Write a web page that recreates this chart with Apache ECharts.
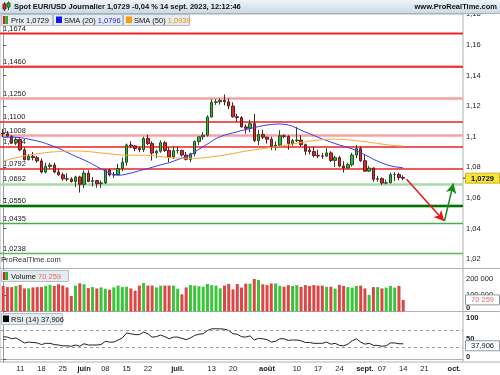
<!DOCTYPE html>
<html><head><meta charset="utf-8">
<script src="https://cdn.jsdelivr.net/npm/echarts@6/dist/echarts.min.js"></script>
<style>html,body{margin:0;padding:0;background:#fff}#c{width:500px;height:375px}</style>
</head><body><div id="c"></div>
<script>
// ---- DATA ----
const dates = [
'2023-05-05','2023-05-08','2023-05-09','2023-05-10','2023-05-11','2023-05-12','2023-05-15','2023-05-16','2023-05-17','2023-05-18','2023-05-19','2023-05-22','2023-05-23','2023-05-24','2023-05-25','2023-05-26','2023-05-29','2023-05-30','2023-05-31',
'2023-06-01','2023-06-02','2023-06-05','2023-06-06','2023-06-07','2023-06-08','2023-06-09','2023-06-12','2023-06-13','2023-06-14','2023-06-15','2023-06-16','2023-06-19','2023-06-20','2023-06-21','2023-06-22','2023-06-23','2023-06-26','2023-06-27','2023-06-28','2023-06-29','2023-06-30',
'2023-07-03','2023-07-04','2023-07-05','2023-07-06','2023-07-07','2023-07-10','2023-07-11','2023-07-12','2023-07-13','2023-07-14','2023-07-17','2023-07-18','2023-07-19','2023-07-20','2023-07-21','2023-07-24','2023-07-25','2023-07-26','2023-07-27','2023-07-28','2023-07-31',
'2023-08-01','2023-08-02','2023-08-03','2023-08-04','2023-08-07','2023-08-08','2023-08-09','2023-08-10','2023-08-11','2023-08-14','2023-08-15','2023-08-16','2023-08-17','2023-08-18','2023-08-21','2023-08-22','2023-08-23','2023-08-24','2023-08-25','2023-08-28','2023-08-29','2023-08-30','2023-08-31',
'2023-09-01','2023-09-04','2023-09-05','2023-09-06','2023-09-07','2023-09-08','2023-09-11','2023-09-12','2023-09-13','2023-09-14',
'2023-09-15','2023-09-18','2023-09-19','2023-09-20','2023-09-21','2023-09-22','2023-09-25','2023-09-26','2023-09-27','2023-09-28','2023-09-29','2023-10-02','2023-10-03','2023-10-04'
];
// [open, close, low, high]
const candles = [
[1.1022,1.1018,1.0998,1.1050],[1.1018,1.1004,1.0995,1.1037],[1.1004,1.0961,1.0955,1.1010],[1.0961,1.0982,1.0945,1.0998],[1.0982,1.0914,1.0905,1.0990],
[1.0914,1.0850,1.0845,1.0930],[1.0850,1.0872,1.0845,1.0887],[1.0872,1.0863,1.0845,1.0900],[1.0863,1.0842,1.0830,1.0875],[1.0842,1.0769,1.0760,1.0858],
[1.0769,1.0806,1.0760,1.0830],[1.0806,1.0815,1.0790,1.0830],[1.0815,1.0769,1.0760,1.0830],[1.0769,1.0751,1.0745,1.0790],[1.0751,1.0725,1.0713,1.0765],
[1.0725,1.0723,1.0710,1.0760],[1.0723,1.0707,1.0700,1.0735],[1.0707,1.0737,1.0672,1.0745],[1.0737,1.0689,1.0635,1.0745],[1.0689,1.0762,1.0665,1.0780],
[1.0762,1.0708,1.0705,1.0780],[1.0708,1.0713,1.0675,1.0737],[1.0713,1.0693,1.0667,1.0718],[1.0693,1.0698,1.0665,1.0715],[1.0698,1.0783,1.0690,1.0787],
[1.0783,1.0750,1.0740,1.0790],[1.0750,1.0752,1.0730,1.0770],[1.0752,1.0792,1.0750,1.0823],[1.0792,1.0833,1.0775,1.0865],[1.0833,1.0946,1.0810,1.0955],
[1.0946,1.0940,1.0925,1.0970],[1.0940,1.0923,1.0905,1.0945],[1.0923,1.0915,1.0898,1.0935],[1.0915,1.0988,1.0900,1.1000],[1.0988,1.0955,1.0945,1.1012],
[1.0955,1.0893,1.0844,1.0970],[1.0893,1.0905,1.0860,1.0915],[1.0905,1.0961,1.0895,1.0976],[1.0961,1.0910,1.0900,1.0973],[1.0910,1.0867,1.0835,1.0930],
[1.0867,1.0909,1.0855,1.0935],[1.0909,1.0910,1.0890,1.0935],[1.0910,1.0880,1.0870,1.0915],[1.0880,1.0852,1.0845,1.0900],[1.0852,1.0888,1.0833,1.0895],
[1.0888,1.0968,1.0870,1.0975],[1.0968,1.0999,1.0945,1.1000],[1.0999,1.1010,1.0980,1.1030],[1.1010,1.1129,1.1000,1.1140],[1.1129,1.1225,1.1125,1.1245],
[1.1225,1.1228,1.1208,1.1245],[1.1228,1.1237,1.1210,1.1250],[1.1237,1.1228,1.1205,1.1276],[1.1228,1.1200,1.1180,1.1250],[1.1200,1.1130,1.1125,1.1225],
[1.1130,1.1125,1.1100,1.1150],[1.1125,1.1064,1.1060,1.1135],[1.1064,1.1055,1.1020,1.1080],[1.1055,1.1085,1.1030,1.1110],[1.1085,1.0975,1.0965,1.1149],
[1.0975,1.1015,1.0945,1.1045],[1.1015,1.0997,1.0985,1.1045],[1.0997,1.0983,1.0955,1.1000],[1.0983,1.0937,1.0912,1.1000],[1.0937,1.0945,1.0910,1.0970],
[1.0945,1.1006,1.0935,1.1042],[1.1006,1.1002,1.0990,1.1015],[1.1002,1.0955,1.0915,1.1010],[1.0955,1.0974,1.0940,1.0985],[1.0974,1.0978,1.0965,1.1064],
[1.0978,1.0948,1.0935,1.1010],[1.0948,1.0905,1.0880,1.0955],[1.0912,1.0903,1.0885,1.0930],[1.0903,1.0877,1.0865,1.0935],[1.0877,1.0874,1.0860,1.0915],
[1.0874,1.0873,1.0855,1.0895],[1.0873,1.0894,1.0870,1.0925],[1.0894,1.0845,1.0835,1.0905],[1.0845,1.0863,1.0802,1.0875],[1.0863,1.0809,1.0800,1.0875],
[1.0809,1.0796,1.0766,1.0840],[1.0796,1.0817,1.0790,1.0830],[1.0817,1.0880,1.0805,1.0895],[1.0880,1.0922,1.0860,1.0945],[1.0922,1.0843,1.0835,1.0935],
[1.0843,1.0775,1.0770,1.0880],[1.0775,1.0795,1.0770,1.0808],[1.0795,1.0722,1.0705,1.0800],[1.0722,1.0726,1.0705,1.0745],[1.0726,1.0697,1.0685,1.0735],
[1.0697,1.0699,1.0688,1.0720],[1.0699,1.0752,1.0695,1.0765],[1.0752,1.0753,1.0710,1.0768],[1.0753,1.0733,1.0715,1.0765],[1.0733,1.0729,1.0715,1.0748]
];
const sma20 = [
1.0995,1.0997,1.0997,1.0996,1.0994,1.0990,1.0984,1.0978,1.0972,1.0965,
1.0956,1.0946,1.0935,1.0925,1.0912,1.0898,1.0885,1.0872,1.0860,1.0848,
1.0835,1.0820,1.0805,1.0790,1.0775,1.0762,1.0752,1.0748,1.0750,1.0756,
1.0762,1.0770,1.0778,1.0785,1.0792,1.0800,1.0808,1.0816,1.0823,1.0830,
1.0840,1.0850,1.0860,1.0868,1.0880,1.0900,1.0918,1.0935,1.0952,1.0970,
1.0988,1.1000,1.1010,1.1018,1.1025,1.1032,1.1040,1.1046,1.1053,1.1060,
1.1066,1.1072,1.1077,1.1080,1.1082,1.1083,1.1081,1.1077,1.1068,1.1055,
1.1042,1.1030,1.1020,1.1008,1.0996,1.0985,1.0975,1.0965,1.0955,1.0946,
1.0938,1.0930,1.0920,1.0908,1.0895,1.0882,1.0868,1.0852,1.0840,1.0828,
1.0818,1.0810,1.0804,1.0800,1.0796];
const sma50 = [
1.0840,1.0848,1.0856,1.0862,1.0868,1.0874,1.0880,1.0884,1.0888,1.0892,
1.0896,1.0899,1.0901,1.0903,1.0905,1.0906,1.0907,1.0907,1.0906,1.0905,
1.0903,1.0900,1.0897,1.0894,1.0891,1.0888,1.0885,1.0882,1.0880,1.0879,
1.0879,1.0879,1.0879,1.0879,1.0878,1.0876,1.0873,1.0870,1.0867,1.0864,
1.0862,1.0861,1.0860,1.0859,1.0859,1.0859,1.0860,1.0862,1.0865,1.0868,
1.0872,1.0876,1.0880,1.0885,1.0890,1.0896,1.0901,1.0906,1.0910,1.0914,
1.0918,1.0922,1.0926,1.0930,1.0934,1.0938,1.0942,1.0947,1.0952,1.0957,
1.0962,1.0967,1.0971,1.0975,1.0978,1.0981,1.0983,1.0984,1.0984,1.0983,
1.0982,1.0980,1.0977,1.0974,1.0971,1.0968,1.0964,1.0960,1.0956,1.0952,
1.0948,1.0945,1.0942,1.0940,1.0939];
const volumes = [
155000,148000,148000,155000,161000,140000,140000,146000,148000,148000,
155000,161000,155000,165000,157000,146000,94000,157000,171000,165000,
142000,148000,140000,146000,138000,132000,146000,157000,148000,150000,
140000,126000,157000,173000,157000,157000,146000,157000,157000,157000,
157000,138000,104000,146000,160000,157000,153000,150000,167000,160000,
157000,140000,157000,167000,134000,167000,145000,169000,169000,197000,
191000,165000,160000,170000,170000,155000,150000,160000,155000,160000,
150000,160000,155000,160000,157000,157000,150000,150000,139000,162000,
155000,148000,145000,155000,157000,140000,101000,148000,148000,140000,
145000,155000,145000,155000,70259];
const rsi = [
55,54,50,52,46,40,42,41,40,36,
39,39,36,35,33,33,32,35,32,38,
35,35,35,36,44,42,42,47,52,64,
62,60,60,66,62,54,55,59,55,50,
54,54,51,48,52,58,61,62,70,74,
74,74,73,70,62,61,55,54,57,47,
51,50,48,42,44,50,50,46,47,47,
45,41,41,39,39,39,42,37,39,34,
33,37,45,50,42,37,39,34,34,32,
33,40,40,38,37.906];
const priceTicks = [1.02,1.04,1.06,1.08,1.10,1.12,1.14,1.16,1.18];
const volumeTicks = [0,100000,200000];
const rsiTicks = [0,50,100];
const rsiBands = [30,70];
const tickLabels = [
['2023-05-11','11'],['2023-05-18','18'],['2023-05-25','25'],['2023-06-01','juin'],['2023-06-08','08'],['2023-06-15','15'],['2023-06-22','22'],
['2023-07-03','juil.'],['2023-07-13','13'],['2023-07-20','20'],['2023-08-01','août'],['2023-08-10','10'],['2023-08-17','17'],['2023-08-24','24'],
['2023-09-01','sept.'],['2023-09-07','07'],['2023-09-14','14'],['2023-09-21','21'],['2023-10-02','oct.']];
const monthLabels = ['juin','juil.','août','sept.','oct.'];
// forecast arrows: [date index, price]
const arrowDown = [[94.8,1.0722],[103.6,1.0449]];
const arrowUp = [[103.7,1.0451],[105.8,1.0695]];

// ---- CHART ----
const FONT = '"Liberation Sans", Arial, sans-serif';
const FS = 7.5;
const chart = echarts.init(document.getElementById('c'));
const pFmt = v => String(+v.toFixed(2)).replace('.', ',');
const lvlFmt = v => v.toFixed(4).replace('.', ',');
const labelMap = {};
tickLabels.forEach(t => { labelMap[dates.indexOf(t[0])] = t[1]; });
const last = candles.length - 1;

const XMIN = -0.75, XMAX = 108.05;
const upColor = '#2cbf2c', downColor = '#e42424';

function levelLine(v, color, width, withLabel) {
  return {
    yAxis: v,
    lineStyle: { color: color, width: width, type: 'solid' },
    label: withLabel ? { show: true, formatter: lvlFmt(v), position: 'insideStartTop', distance: [3, 0.5],
      color: '#222', fontSize: FS, fontFamily: FONT } : { show: false }
  };
}
const lvlData = [
  levelLine(1.1674, '#f6a9a9', 2.5, false), levelLine(1.1674, '#ee1c1c', 1.4, true),
  levelLine(1.1460, '#f6a9a9', 3, false), levelLine(1.1460, '#ee1c1c', 1.6, true),
  levelLine(1.1250, '#f4a2a2', 2.5, true),
  levelLine(1.1100, '#ee2020', 1.5, true),
  levelLine(1.1008, '#f4a2a2', 2.5, true),
  levelLine(1.0934, '#ee2020', 1.5, true),
  levelLine(1.0792, '#ee2020', 1.5, true),
  levelLine(1.0692, '#a9dba9', 2.5, true),
  levelLine(1.0550, '#a9dba9', 4, false), levelLine(1.0550, '#0c6a0c', 2, true),
  levelLine(1.0435, '#46b046', 1.4, true),
  levelLine(1.0238, '#58bb58', 1.4, true)
];
function arrow(pts, color) {
  return [
    { coord: pts[0], symbol: 'none', lineStyle: { color: color, width: 1.5, type: 'solid' }, label: { show: false } },
    { coord: pts[1], symbol: 'arrow', symbolSize: [8, 10], lineStyle: { color: color, width: 1.5, type: 'solid' }, label: { show: false } }
  ];
}

const option = {
  animation: false,
  backgroundColor: '#fff',
  textStyle: { fontFamily: FONT },
  grid: [
    { left: 0, top: 14, width: 463, height: 254.5, show: true, borderColor: '#a9b2b8', borderWidth: 1, backgroundColor: 'transparent' },
    { left: 0, top: 268.5, width: 463, height: 43, show: true, borderColor: '#a9b2b8', borderWidth: 1 },
    { left: 0, top: 311.5, width: 463, height: 50.5, show: true, borderColor: '#a9b2b8', borderWidth: 1 }
  ],
  xAxis: [0, 1, 2].map(g => ({
    type: 'value', gridIndex: g, min: XMIN, max: XMAX, show: g === 2,
    splitLine: { show: false }, axisTick: { show: false },
    axisLine: { show: g === 2, lineStyle: { color: '#a9b2b8' } },
    axisLabel: g === 2 ? {
      customValues: tickLabels.map(t => dates.indexOf(t[0])),
      formatter: v => { const s = labelMap[Math.round(v)] || ''; return monthLabels.indexOf(s) >= 0 ? '{m|' + s + '}' : s; },
      color: '#222', fontSize: FS, fontFamily: FONT, margin: 3,
      rich: { m: { fontWeight: 'bold', fontSize: FS, fontFamily: FONT, color: '#222' } }
    } : { show: false }
  })),
  yAxis: [
    { type: 'value', gridIndex: 0, position: 'right', min: 1.18020 - 254.5 / 1530, max: 1.18020,
      splitLine: { show: false }, axisLine: { show: true, lineStyle: { color: '#8f999f' } },
      axisTick: { show: true, length: 3, customValues: priceTicks, lineStyle: { color: '#555' } },
      axisLabel: { customValues: priceTicks, formatter: pFmt, color: '#222', fontSize: FS, fontFamily: FONT, margin: 3 } },
    { type: 'value', gridIndex: 1, position: 'right', min: 0, max: 43 / 16.5 * 100000,
      splitLine: { show: false }, axisLine: { show: true, lineStyle: { color: '#8f999f' } },
      axisTick: { show: true, length: 3, customValues: volumeTicks, lineStyle: { color: '#555' } },
      axisLabel: { customValues: volumeTicks,
        formatter: v => v === 0 ? '{z|0}' : (v / 1000) + ' 000',
        color: '#222', fontSize: FS, fontFamily: FONT, margin: 3,
        rich: { z: { fontWeight: 'bold', fontSize: FS, fontFamily: FONT, color: '#222', padding: [0, 0, 8, 0] } } } },
    { type: 'value', gridIndex: 2, position: 'right', min: -6.0, max: 115.7,
      splitLine: { show: false }, axisLine: { show: true, lineStyle: { color: '#8f999f' } },
      axisTick: { show: true, length: 3, customValues: rsiTicks, lineStyle: { color: '#555' } },
      axisLabel: { customValues: rsiTicks,
        formatter: v => v === 0 ? '{z|0}' : '{b|' + v + '}',
        color: '#222', fontSize: FS, fontFamily: FONT, margin: 3,
        rich: { z: { fontWeight: 'bold', fontSize: FS, fontFamily: FONT, color: '#222', padding: [0, 0, 5, 0] },
                b: { fontWeight: 'bold', fontSize: FS, fontFamily: FONT, color: '#222' } } } }
  ],
  series: [
    { type: 'candlestick', xAxisIndex: 0, yAxisIndex: 0, barWidth: 3, z: 3,
      encode: { x: 0, y: [1, 2, 3, 4] },
      data: candles.map((c, i) => [i, c[0], c[1], c[2], c[3]]),
      itemStyle: { color: upColor, color0: downColor, borderColor: '#2a4a2a', borderColor0: '#5a1f1f', borderWidth: 1 },
      markLine: { silent: true, symbol: ['none', 'none'], precision: 4, z: 1, animation: false,
        data: lvlData.concat([arrow(arrowDown, '#e8141c'), arrow(arrowUp, '#1b8a1b')]) } },
    { type: 'line', xAxisIndex: 0, yAxisIndex: 0, z: 4, showSymbol: false, symbol: 'none',
      data: sma20.map((v, i) => [i, v]), lineStyle: { color: '#3a3af5', width: 1 } },
    { type: 'line', xAxisIndex: 0, yAxisIndex: 0, z: 4, showSymbol: false, symbol: 'none',
      data: sma50.map((v, i) => [i, v]), lineStyle: { color: '#f8a73a', width: 1 } },
    { type: 'bar', xAxisIndex: 1, yAxisIndex: 1, barWidth: 3,
      data: volumes.map((v, i) => ({ value: [i, v], itemStyle: { color: candles[i][1] >= candles[i][0] ? '#3ac43a' : '#de4646' } })) },
    { type: 'line', xAxisIndex: 2, yAxisIndex: 2, showSymbol: false, symbol: 'none',
      data: rsi.map((v, i) => [i, v]), lineStyle: { color: '#222', width: 1 },
      markLine: { silent: true, symbol: ['none', 'none'], label: { show: false },
        lineStyle: { color: '#9a9a9a', type: [3, 3], width: 1 },
        data: rsiBands.map(v => ({ yAxis: v })) } }
  ]
};
chart.setOption(option);

// ---- overlays (title bar, legends, value boxes) ----
const yPrice = chart.convertToPixel({ yAxisIndex: 0 }, candles[last][1]);
const yVol = chart.convertToPixel({ yAxisIndex: 1 }, volumes[last]);
const yRsi = chart.convertToPixel({ yAxisIndex: 2 }, rsi[last]);
const fmtVol = v => Math.floor(v / 1000) + ' ' + String(v % 1000).padStart(3, '0');
const t = (text, x, y, opts) => Object.assign({ type: 'text', silent: true, z: 100,
  style: Object.assign({ text: text, x: x, y: y, fill: '#111', fontSize: FS, fontFamily: FONT, textVerticalAlign: 'middle', textAlign: 'left' }, opts || {}) });
const r = (x, y, w, h, fill, stroke, z) => ({ type: 'rect', silent: true, z: z || 99, shape: { x: x, y: y, width: w, height: h },
  style: { fill: fill, stroke: stroke || null, lineWidth: 1 } });
const ln = (x1, y1, x2, y2, c) => ({ type: 'line', silent: true, z: 99, shape: { x1: x1, y1: y1, x2: x2, y2: y2 }, style: { stroke: c, lineWidth: 1 } });

const legFill = '#e5ebef', legStroke = '#b3bec6';
const graphics = [
  // title bar
  { type: 'rect', silent: true, z: 98, shape: { x: 0, y: 0, width: 500, height: 13 },
    style: { fill: new echarts.graphic.LinearGradient(0, 0, 0, 1, [{ offset: 0, color: '#eef4f8' }, { offset: 1, color: '#cbdae5' }]) } },
  ln(0, 13.5, 500, 13.5, '#a9b2b8'),
  // title icon
  ln(4.5, 2, 4.5, 11, '#444'), r(3, 4, 3, 5, '#d22', '#622', 100),
  ln(8.5, 1.5, 8.5, 10, '#444'), r(7, 3, 3, 4, '#2b2', '#262', 100),
  t('Spot EUR/USD Journalier 1,0729 -0,04 % 14 sept. 2023, 12:12:46', 14, 7, { fontWeight: 'bold' }),
  t('www.ProRealTime.com', 497, 7, { fontWeight: 'bold', textAlign: 'right' }),
  // price legend
  r(1.5, 14.5, 51, 11, legFill, legStroke), r(3, 16, 2.5, 8, '#d92020', null, 100), r(5.5, 16, 2.5, 8, '#22b522', null, 100),
  t('Prix 1,0729', 11, 20.5),
  r(53.5, 14.5, 69, 11, legFill, legStroke), r(56, 16.5, 6, 6.5, '#1515f0', null, 100),
  t('{a|SMA (20) }{b|1,0796}', 64, 20.5, { rich: { a: { fill: '#111', fontSize: FS, fontFamily: FONT }, b: { fill: '#2222ee', fontSize: FS, fontFamily: FONT } } }),
  r(123.5, 14.5, 66, 11, legFill, legStroke), r(126, 16.5, 6, 6.5, '#ff9a10', null, 100),
  t('{a|SMA (50) }{b|1,0939}', 134, 20.5, { rich: { a: { fill: '#111', fontSize: FS, fontFamily: FONT }, b: { fill: '#f0900a', fontSize: FS, fontFamily: FONT } } }),
  t('ProRealTime.com', 1, 260, { fill: '#333' }),
  // volume legend
  r(1.5, 270.5, 67, 11, legFill, legStroke), r(3, 272, 2.5, 8, '#d92020', null, 100), r(5.5, 272, 2.5, 8, '#22b522', null, 100),
  t('{a|Volume }{b|' + fmtVol(volumes[last]) + '}', 11, 276.5, { rich: { a: { fill: '#111', fontSize: FS, fontFamily: FONT }, b: { fill: '#e66a6a', fontSize: FS, fontFamily: FONT } } }),
  // rsi legend
  r(1.5, 313.5, 61, 11, legFill, legStroke), r(3, 315.5, 6, 6.5, '#000', null, 100),
  t('RSI (14) ' + String(rsi[last]).replace('.', ','), 11, 319.5),
  // separators extended to the right edge
  ln(463, 268.5, 500, 268.5, '#a9b2b8'), ln(463, 311.5, 500, 311.5, '#a9b2b8'), ln(463, 362, 500, 362, '#a9b2b8'),
  // last price box
  ln(463, yPrice, 466, yPrice, '#333'),
  r(465.5, yPrice - 5, 34, 10, '#f6e43c', '#c9b320'),
  t(lvlFmt(candles[last][1]), 482.5, yPrice + 0.5, { fontWeight: 'bold', textAlign: 'center' }),
  // last volume box
  r(465.5, yVol - 5, 34, 10, '#fff', '#8d9aa4'),
  t(fmtVol(volumes[last]), 482.5, yVol + 0.5, { fill: '#e66a6a', textAlign: 'center' }),
  // last rsi box
  r(465.5, yRsi - 3, 34, 10, '#fff', '#8d9aa4'),
  t(String(rsi[last]).replace('.', ','), 482.5, yRsi + 2.2, { textAlign: 'center' })
];
chart.setOption({ graphic: graphics });
</script>
</body></html>
